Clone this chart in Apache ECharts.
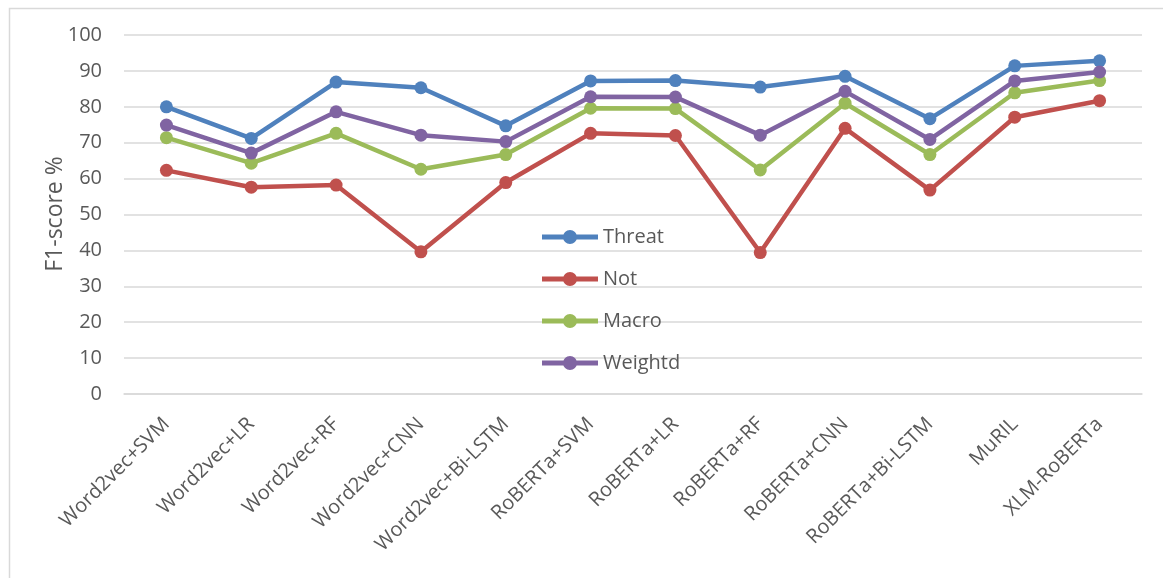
<!DOCTYPE html>
<html>
<head>
<meta charset="utf-8">
<script src="https://cdn.jsdelivr.net/npm/echarts@6/dist/echarts.min.js"></script>
<style>
  html, body { margin: 0; padding: 0; background: #ffffff; }
  #chart { width: 1163px; height: 578px; }
</style>
</head>
<body>
<div id="chart"></div>
<script>
// Models compared
var categories = ['Word2vec+SVM', 'Word2vec+LR', 'Word2vec+RF', 'Word2vec+CNN', 'Word2vec+Bi-LSTM',
  'RoBERTa+SVM', 'RoBERTa+LR', 'RoBERTa+RF', 'RoBERTa+CNN', 'RoBERTa+Bi-LSTM', 'MuRIL', 'XLM-RoBERTa'];

// F1-scores (%) per class and averages
var threat  = [80.0, 71.2, 86.9, 85.3, 74.7, 87.2, 87.3, 85.5, 88.5, 76.7, 91.4, 92.8];
var notCls  = [62.3, 57.6, 58.2, 39.6, 58.9, 72.6, 72.0, 39.4, 74.0, 56.8, 77.1, 81.7];
var macro   = [71.4, 64.3, 72.6, 62.6, 66.7, 79.6, 79.5, 62.4, 81.0, 66.7, 83.9, 87.3];
var weightd = [74.9, 67.1, 78.6, 72.1, 70.3, 82.8, 82.7, 72.1, 84.3, 70.9, 87.2, 89.7];

var yTicks = { min: 0, max: 100, interval: 10 };
var yTitle = 'F1-score %';

var FONT = '"Open Sans", "Noto Sans", sans-serif';
var TEXT = '#595959';
var GRID = '#d9d9d9';

// Legend marker: thick line with a dot in the middle
var LEGEND_ICON = 'path://M0,4.5 L21.5,4.5 L21.5,9.5 L0,9.5 Z ' +
  'M34.5,4.5 L56,4.5 L56,9.5 L34.5,9.5 Z ' +
  'M35,7 A7,7 0 1 1 21,7 A7,7 0 1 1 35,7 Z';

function lineSeries(name, data, color) {
  return {
    name: name,
    type: 'line',
    data: data,
    symbol: 'circle',
    symbolSize: 13,
    lineStyle: { width: 4.5, color: color },
    itemStyle: { color: color },
    emphasis: { disabled: true },
    animation: false
  };
}

var chart = echarts.init(document.getElementById('chart'), null, { renderer: 'canvas' });
chart.setOption({
  backgroundColor: '#ffffff',
  textStyle: { fontFamily: FONT },
  graphic: [{
    type: 'rect',
    left: 7, top: 6,
    shape: { width: 1200, height: 620 },
    style: { fill: 'none', stroke: GRID, lineWidth: 1.5 },
    silent: true
  }, {
    type: 'text',
    x: 55, y: 214,
    rotation: Math.PI / 2,
    style: {
      text: yTitle,
      fontFamily: FONT,
      fontSize: 23,
      fill: TEXT,
      textAlign: 'center',
      textVerticalAlign: 'middle'
    },
    silent: true
  }],
  grid: { left: 124, right: 21, top: 35, bottom: 184 },
  legend: {
    orient: 'vertical',
    left: 537,
    top: 222,
    itemWidth: 56,
    itemHeight: 14,
    itemGap: 22,
    icon: LEGEND_ICON,
    textStyle: { fontFamily: FONT, fontSize: 20, color: TEXT },
    data: ['Threat', 'Not', 'Macro', 'Weightd']
  },
  xAxis: {
    type: 'category',
    data: categories,
    boundaryGap: true,
    axisLine: { show: true, lineStyle: { color: GRID, width: 1.5 } },
    axisTick: { show: false },
    axisLabel: {
      rotate: 45,
      interval: 0,
      margin: 27,
      fontFamily: FONT,
      fontSize: 20,
      color: TEXT
    }
  },
  yAxis: {
    type: 'value',
    min: yTicks.min,
    max: yTicks.max,
    interval: yTicks.interval,
    axisLine: { show: false },
    axisTick: { show: false },
    axisLabel: { margin: 22, fontFamily: FONT, fontSize: 20, color: TEXT },
    splitLine: { lineStyle: { color: GRID, width: 1.5 } }
  },
  series: [
    lineSeries('Threat', threat, '#4F81BD'),
    lineSeries('Not', notCls, '#C0504D'),
    lineSeries('Macro', macro, '#9BBB59'),
    lineSeries('Weightd', weightd, '#8064A2')
  ]
});
</script>
</body>
</html>
